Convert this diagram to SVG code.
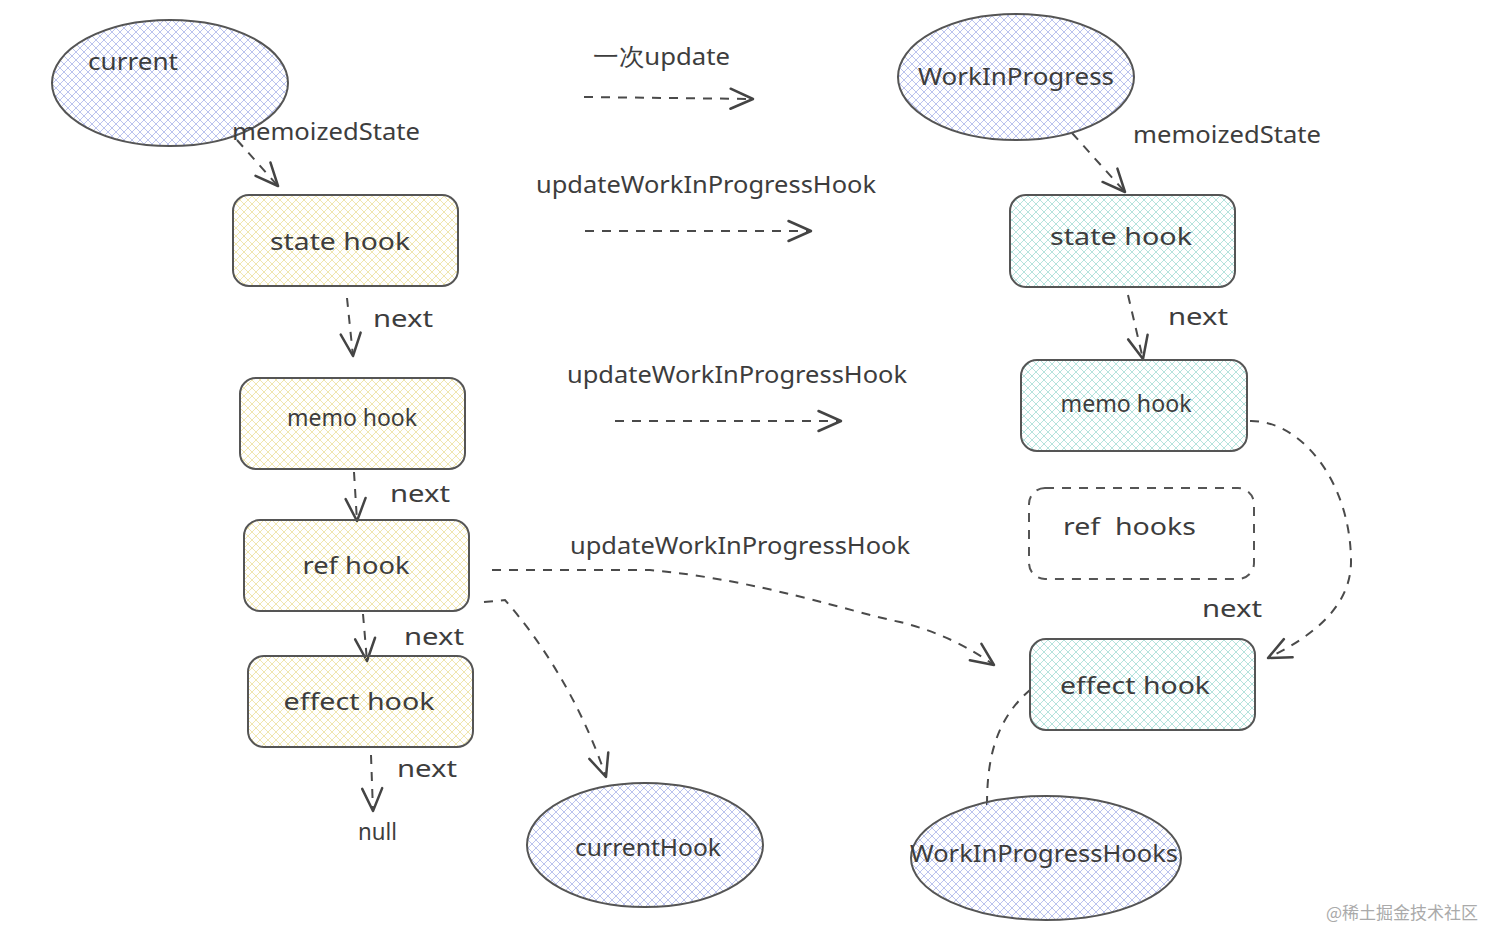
<svg xmlns="http://www.w3.org/2000/svg" width="1512" height="948" viewBox="0 0 1512 948">
<defs>
<pattern id="hBlue" patternUnits="userSpaceOnUse" width="8" height="8">
<path d="M0 0 L8 8 M8 0 L0 8" stroke="#aab4ea" stroke-width="0.8" fill="none"/>
</pattern>
<pattern id="hYellow" patternUnits="userSpaceOnUse" width="8" height="8">
<path d="M0 0 L8 8 M8 0 L0 8" stroke="#ece09a" stroke-width="0.8" fill="none"/>
</pattern>
<pattern id="hTeal" patternUnits="userSpaceOnUse" width="8" height="8">
<path d="M0 0 L8 8 M8 0 L0 8" stroke="#a2dcd4" stroke-width="0.8" fill="none"/>
</pattern>
<marker id="arr" markerUnits="userSpaceOnUse" markerWidth="30" markerHeight="30" refX="0" refY="0" viewBox="-20 -12 24 24" orient="auto">
<path d="M-18 -8 L0 0 L-18 8" fill="none" stroke="#444" stroke-width="2" stroke-linecap="round" stroke-linejoin="round"/>
</marker>
</defs>
<style>
.shape{stroke:#555;stroke-width:2}
.t{font-family:"Noto Sans","DejaVu Sans",sans-serif;fill:#3d3d3d;font-size:24px}
.c{text-anchor:middle}
.con{fill:none;stroke:#4a4a4a;stroke-width:2;stroke-dasharray:9 8}
.wm{font-family:"Noto Sans CJK SC",sans-serif;font-size:17px;fill:#aaa}
</style>
<rect width="1512" height="948" fill="#ffffff"/>

<g id="connectors">
<path class="con" d="M584 97 L753 99" marker-end="url(#arr)"/>
<path class="con" d="M585 231 L811 231" marker-end="url(#arr)"/>
<path class="con" d="M615 421 L841 421" marker-end="url(#arr)"/>
<path class="con" d="M237 140 L278 186" marker-end="url(#arr)"/>
<path class="con" d="M1072 133 L1125 192" marker-end="url(#arr)"/>
<path class="con" d="M347 298 L353 356" marker-end="url(#arr)"/>
<path class="con" d="M354 472 L357 521" marker-end="url(#arr)"/>
<path class="con" d="M363 614 L367 661" marker-end="url(#arr)"/>
<path class="con" d="M371 755 L373 811" marker-end="url(#arr)"/>
<path class="con" d="M1128 295 L1143 359" marker-end="url(#arr)"/>
<path class="con" d="M1250 421 C1300 420 1350 480 1351 560 C1352 610 1305 640 1268 658" marker-end="url(#arr)"/>
<path class="con" d="M492 570 L650 570 C760 580 850 612 900 622 C940 632 970 648 994 665" marker-end="url(#arr)"/>
<path class="con" d="M484 602 L505 600 C540 640 580 700 606 777" marker-end="url(#arr)"/>
<path class="con" d="M987 805 C987 760 995 720 1030 690"/>
</g>

<g id="current">
<ellipse class="shape" cx="170" cy="83" rx="118" ry="63" fill="url(#hBlue)"/>
<text class="t" x="88" y="70" textLength="90" lengthAdjust="spacingAndGlyphs">current</text>
</g>
<g id="workInProgress">
<ellipse class="shape" cx="1016" cy="77" rx="118" ry="63" fill="url(#hBlue)"/>
<text class="t c" x="1016" y="85" textLength="196" lengthAdjust="spacingAndGlyphs">WorkInProgress</text>
</g>
<g id="currentHook">
<ellipse class="shape" cx="645" cy="845" rx="118" ry="62" fill="url(#hBlue)"/>
<text class="t c" x="648" y="856" textLength="146" lengthAdjust="spacingAndGlyphs">currentHook</text>
</g>
<g id="workInProgressHooks">
<ellipse class="shape" cx="1046" cy="858" rx="135" ry="62" fill="url(#hBlue)"/>
<text class="t c" x="1044" y="862" textLength="268" lengthAdjust="spacingAndGlyphs">WorkInProgressHooks</text>
</g>

<g id="left-state-hook">
<rect class="shape" x="233" y="195" width="225" height="91" rx="16" fill="url(#hYellow)"/>
<text class="t c" x="340" y="250" textLength="140" lengthAdjust="spacingAndGlyphs">state hook</text>
</g>
<g id="left-memo-hook">
<rect class="shape" x="240" y="378" width="225" height="91" rx="16" fill="url(#hYellow)"/>
<text class="t c" x="352" y="426" textLength="130" lengthAdjust="spacingAndGlyphs">memo hook</text>
</g>
<g id="left-ref-hook">
<rect class="shape" x="244" y="520" width="225" height="91" rx="16" fill="url(#hYellow)"/>
<text class="t c" x="356" y="574" textLength="107" lengthAdjust="spacingAndGlyphs">ref hook</text>
</g>
<g id="left-effect-hook">
<rect class="shape" x="248" y="656" width="225" height="91" rx="16" fill="url(#hYellow)"/>
<text class="t c" x="359" y="710" textLength="151" lengthAdjust="spacingAndGlyphs">effect hook</text>
</g>

<g id="right-state-hook">
<rect class="shape" x="1010" y="195" width="225" height="92" rx="16" fill="url(#hTeal)"/>
<text class="t c" x="1121" y="245" textLength="142" lengthAdjust="spacingAndGlyphs">state hook</text>
</g>
<g id="right-memo-hook">
<rect class="shape" x="1021" y="360" width="226" height="91" rx="16" fill="url(#hTeal)"/>
<text class="t c" x="1126" y="412" textLength="131" lengthAdjust="spacingAndGlyphs">memo hook</text>
</g>
<g id="right-ref-hooks">
<rect x="1029" y="488" width="225" height="91" rx="16" fill="none" stroke="#555" stroke-width="2" stroke-dasharray="9 8"/>
<text class="t" x="1063" y="535" xml:space="preserve" textLength="133" lengthAdjust="spacingAndGlyphs">ref  hooks</text>
</g>
<g id="right-effect-hook">
<rect class="shape" x="1030" y="639" width="225" height="91" rx="16" fill="url(#hTeal)"/>
<text class="t c" x="1135" y="694" textLength="150" lengthAdjust="spacingAndGlyphs">effect hook</text>
</g>

<g id="labels">
<text class="t" x="232" y="140" textLength="188" lengthAdjust="spacingAndGlyphs">memoizedState</text>
<text class="t" x="1133" y="143" textLength="188" lengthAdjust="spacingAndGlyphs">memoizedState</text>
<text class="t" x="593" y="65" font-family="'Noto Sans CJK SC',sans-serif" textLength="137" lengthAdjust="spacingAndGlyphs">一次update</text>
<text class="t" x="536" y="193" textLength="340" lengthAdjust="spacingAndGlyphs">updateWorkInProgressHook</text>
<text class="t" x="567" y="383" textLength="340" lengthAdjust="spacingAndGlyphs">updateWorkInProgressHook</text>
<text class="t" x="570" y="554" textLength="340" lengthAdjust="spacingAndGlyphs">updateWorkInProgressHook</text>
<text class="t" x="373" y="327" textLength="60" lengthAdjust="spacingAndGlyphs">next</text>
<text class="t" x="1168" y="325" textLength="60" lengthAdjust="spacingAndGlyphs">next</text>
<text class="t" x="390" y="502" textLength="60" lengthAdjust="spacingAndGlyphs">next</text>
<text class="t" x="404" y="645" textLength="60" lengthAdjust="spacingAndGlyphs">next</text>
<text class="t" x="397" y="777" textLength="60" lengthAdjust="spacingAndGlyphs">next</text>
<text class="t" x="1202" y="617" textLength="60" lengthAdjust="spacingAndGlyphs">next</text>
<text class="t" x="358" y="840" textLength="39" lengthAdjust="spacingAndGlyphs">null</text>
</g>

<text class="wm" x="1326" y="919">@稀土掘金技术社区</text>
</svg>
